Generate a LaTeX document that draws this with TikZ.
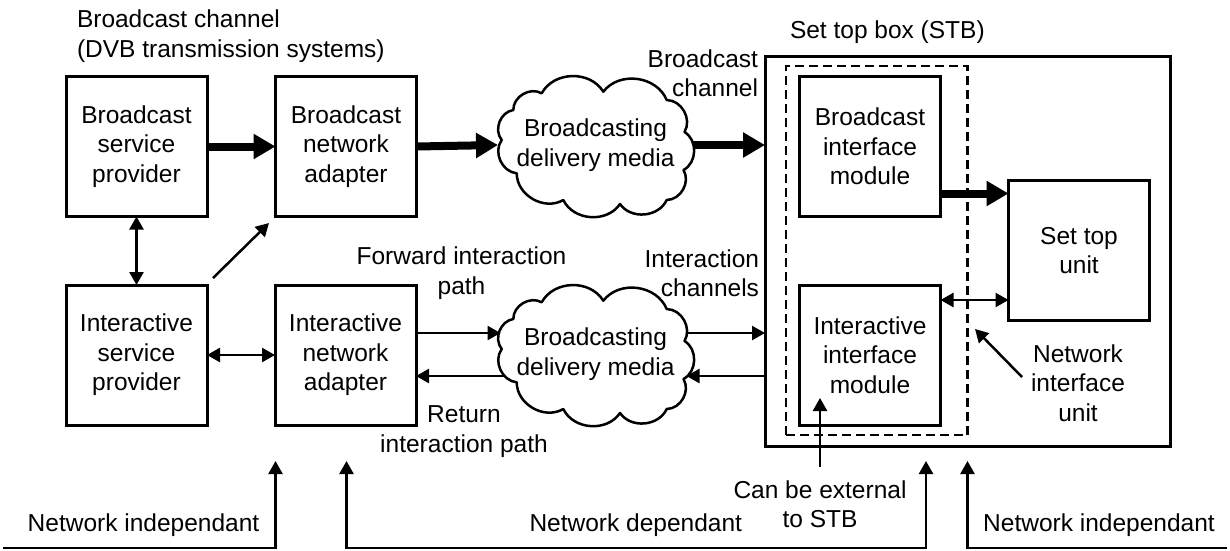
\documentclass[tikz,border=0pt]{standalone}
\usepackage{fontspec}
\setmainfont{Liberation Sans}
\usetikzlibrary{arrows.meta,shapes.geometric,calc}

\begin{document}
\begin{tikzpicture}[x=1pt,y=-1pt,
  every node/.style={font=\fontsize{24.5}{29.5}\selectfont, align=center, inner sep=0pt, outer sep=0pt},
  blockbox/.style={draw, line width=3pt, minimum width=141pt, minimum height=140pt},
  cloudcore/.style={shape=ellipse, minimum width=195pt, minimum height=140pt},
  cloudline/.style={draw, line width=2.5pt, line join=round},
  puff/.style={bend left=60, looseness=1.05},
  thickarr/.style={line width=8pt, -{Triangle[length=22pt,width=24pt]}},
  thinarr/.style={line width=2.5pt, -{Triangle[length=13pt,width=14pt]}},
  dblarr/.style={line width=2.5pt, {Triangle[length=13pt,width=14pt]}-{Triangle[length=13pt,width=14pt]}}]
\useasboundingbox (0,0) rectangle (1230,550);

% set top box and the dashed network interface unit
\node[draw, line width=3pt, minimum width=405pt, minimum height=390pt] (stb) at (967.5,251) {};
\node[draw, line width=2.5pt, dash pattern=on 9pt off 5pt, minimum width=181.5pt, minimum height=369pt] (niu) at (876.75,250.5) {};

% blocks
\node[blockbox] (bsp) at (136.5,146.5) {Broadcast\\service\\provider};
\node[blockbox] (bna) at (346,146.5) {Broadcast\\network\\adapter};
\node[blockbox] (isp) at (136.5,355) {Interactive\\service\\provider};
\node[blockbox] (ina) at (345.5,355) {Interactive\\network\\adapter};
\node[blockbox] (bim) at (870,146.5) {Broadcast\\interface\\module};
\node[blockbox] (iim) at (870,355) {Interactive\\interface\\module};
\node[blockbox] (stu) at (1079,250.5) {Set top\\unit};

% delivery media: an elliptic core outlined by eleven puffs
\node[cloudcore] (c1) at (595.5,145) {};
\node[cloudcore] (c2) at (595.5,354) {};
\foreach \c in {c1,c2} {
  \draw[cloudline] ($(\c.center)+(7.8,-53.3)$)
    \foreach \px/\py in {71.2/-45, 89/-13, 88/25, 71.2/55, 24.5/59, -32.2/55,
                         -78.8/28.3, -93.8/-5, -82.2/-35, -53.8/-51.7} {
      to[puff] ($(\c.center)+(\px,\py)$)
    } to[puff] cycle;
}
\node (c1t) at (c1.center) {Broadcasting\\delivery media};
\node (c2t) at (c2.center) {Broadcasting\\delivery media};

% points where the interaction paths meet the lower cloud
\coordinate (c2ne) at ($(c2.center)+(90,-21)$);
\coordinate (c2se) at ($(c2.center)+(91,22)$);
\coordinate (c2nw) at ($(c2.center)+(-95,-21)$);
\coordinate (c2sw) at ($(c2.center)+(-92,22)$);

% broadcast path
\draw[thickarr] (bsp.east) -- (bna.west);
\draw[thickarr] (bna.east) -- (c1.west);
\draw[thickarr] (c1.east) -- (c1.east -| stb.west);
\coordinate (stuin) at ([yshift=-13pt]stu.north west);
\draw[thickarr] (stuin -| bim.east) -- (stuin);

% interaction paths
\draw[thinarr] (c2nw -| ina.east) -- (c2nw);
\draw[thinarr] (c2sw) -- (c2sw -| ina.east);
\draw[thinarr] (c2ne) -- (c2ne -| stb.west);
\draw[thinarr] (c2se -| stb.west) -- (c2se);
\coordinate (stuio) at ([yshift=-15pt]iim.north east);
\draw[dblarr] (stuio) -- (stuio -| stu.west);

% provider links
\draw[dblarr] (bsp.south) -- (isp.north);
\draw[dblarr] (isp.east) -- (ina.west);
\coordinate (dstart) at (213,278);
\coordinate (dend) at (269,223);
\draw[thinarr] (dstart) -- (dend);

% labels
\node[anchor=west, align=left] (ttl) at (77,36) {Broadcast channel\\(DVB transmission systems)};
\node[anchor=east, align=right] (bch) at (758,73) {Broadcast\\channel};
\node[anchor=west] (stbl) at (790,32) {Set top box (STB)};
\node (fwd) at (461.5,273) {Forward interaction\\path};
\node[anchor=east, align=right] (ich) at (759,273) {Interaction\\channels};
\node (ret) at (464,431.5) {Return\\interaction path};
\node (niul) at (1078,383) {Network\\interface\\unit};
\node (ext) at (820,504) {Can be external\\to STB};
\node (ni1) at (143.5,525) {Network independant};
\node[anchor=east] (nd) at (742,525) {Network dependant};
\node (ni2) at (1099,525) {Network independant};

% pointers
\coordinate (niustart) at (1022,377);
\coordinate (niuend) at (975,329);
\draw[thinarr] (niustart) -- (niuend);
\coordinate (extstart) at (820,467);
\coordinate (extend) at (820,398);
\draw[thinarr] (extstart) -- (extend);

% network split markers
\coordinate (l0) at (3,548);
\coordinate (l1) at (275.5,548);
\coordinate (l1t) at (275.5,461);
\coordinate (m0t) at (346.5,461);
\coordinate (m0) at (346.5,548);
\coordinate (m1) at (926,548);
\coordinate (m1t) at (926,461);
\coordinate (r0) at (1227,548);
\coordinate (r1) at (967.5,548);
\coordinate (r1t) at (967.5,461);
\draw[thinarr] (l0) -- (l1) -- (l1t);
\draw[dblarr] (m0t) -- (m0) -- (m1) -- (m1t);
\draw[thinarr] (r0) -- (r1) -- (r1t);
\end{tikzpicture}
\end{document}
